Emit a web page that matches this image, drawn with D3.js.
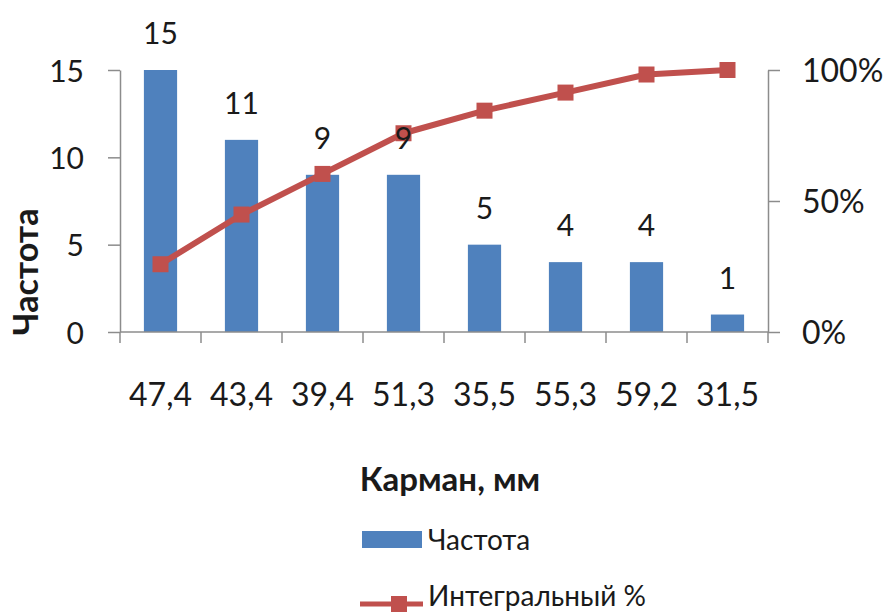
<!DOCTYPE html>
<html>
<head>
<meta charset="utf-8">
<script src="https://cdn.jsdelivr.net/npm/d3@7"></script>
<style>
  html, body { margin: 0; padding: 0; background: #ffffff; }
  svg text { font-family: Lato, "Open Sans", sans-serif; fill: #1a1a1a; }
</style>
</head>
<body>
<svg id="chart" width="886" height="614"></svg>
<script>
// Pocket size classes (mm), sorted by frequency
const categories = ["47,4", "43,4", "39,4", "51,3", "35,5", "55,3", "59,2", "31,5"];
// Frequency per class
const frequency = [15, 11, 9, 9, 5, 4, 4, 1];
// Cumulative share (Pareto line)
const cumulative = [0.2586, 0.4483, 0.6034, 0.7586, 0.8448, 0.9138, 0.9828, 1.0];
// Axis ticks
const leftTicks = [0, 5, 10, 15];
const rightTicks = [0, 0.5, 1];

const barColor = "#4F81BD";
const lineColor = "#C0504D";
const axisColor = "#8c8c8c";

const svg = d3.select("#chart");
const plotL = 120, plotR = 768, plotT = 70, plotB = 332;

const x = d3.scaleBand().domain(categories).range([plotL, plotR])
  .paddingInner(0.59).paddingOuter(0.295);
const y = d3.scaleLinear().domain([0, 15]).range([plotB, plotT]);
const y2 = d3.scaleLinear().domain([0, 1]).range([plotB, plotT]);
const cx = c => x(c) + x.bandwidth() / 2;

// Bars
svg.append("g").selectAll("rect").data(frequency).join("rect")
  .attr("x", (d, i) => x(categories[i]))
  .attr("y", d => y(d))
  .attr("width", x.bandwidth())
  .attr("height", d => y(0) - y(d))
  .attr("fill", barColor);

// Left axis
const gL = svg.append("g").attr("transform", `translate(${plotL},0)`)
  .call(d3.axisLeft(y).tickValues(leftTicks).tickSize(12).tickSizeOuter(0).tickPadding(24));
// Right axis
const gR = svg.append("g").attr("transform", `translate(${plotR},0)`)
  .call(d3.axisRight(y2).tickValues(rightTicks).tickSize(12).tickSizeOuter(0)
    .tickPadding(22).tickFormat(d3.format(".0%")));
// Bottom axis: labels at band centres, tick marks on band boundaries
const gB = svg.append("g").attr("transform", `translate(0,${plotB})`)
  .call(d3.axisBottom(x).tickSize(0).tickSizeOuter(0).tickPadding(51));
gB.select(".domain").remove();
gB.append("line").attr("x1", plotL).attr("x2", plotR).attr("y1", 0).attr("y2", 0);
const boundaries = categories.map(c => cx(c) - x.step() / 2).concat([plotR]);
gB.selectAll("line.sep").data(boundaries).join("line").attr("class", "sep")
  .attr("x1", d => d).attr("x2", d => d).attr("y1", 0).attr("y2", 11);

[gL, gR, gB].forEach(g => {
  g.selectAll("path, line").attr("stroke", axisColor).attr("stroke-width", 1.5);
  g.selectAll("text").attr("fill", "#1a1a1a")
    .style("font-family", "Lato, 'Open Sans', sans-serif");
});
gL.selectAll("text").style("font-size", "30px").attr("dy", "0.37em");
gR.selectAll("text").style("font-size", "32px").attr("dy", "0.37em");
gB.selectAll("text").style("font-size", "32px").attr("dy", "0.72em");

// Cumulative line with square markers
const line = d3.line().x((d, i) => cx(categories[i])).y(d => y2(d));
svg.append("path").datum(cumulative)
  .attr("d", line).attr("fill", "none")
  .attr("stroke", lineColor).attr("stroke-width", 6).attr("stroke-linejoin", "round");
const ms = 16;
svg.append("g").selectAll("rect").data(cumulative).join("rect")
  .attr("x", (d, i) => cx(categories[i]) - ms / 2)
  .attr("y", d => y2(d) - ms / 2)
  .attr("width", ms).attr("height", ms)
  .attr("fill", lineColor);

// Value labels above bars
svg.append("g").selectAll("text").data(frequency).join("text")
  .attr("x", (d, i) => cx(categories[i]))
  .attr("y", d => y(d) - 26)
  .attr("text-anchor", "middle")
  .style("font-size", "30px")
  .text(d => d);

// Axis titles
svg.append("text")
  .attr("x", 450).attr("y", 491)
  .attr("text-anchor", "middle")
  .style("font-size", "33px").style("font-weight", "bold")
  .text("Карман, мм");
svg.append("text")
  .attr("transform", "translate(38,272) rotate(-90)")
  .attr("text-anchor", "middle")
  .style("font-size", "34px").style("font-weight", "bold")
  .text("Частота");

// Legend
const lg = svg.append("g");
lg.append("rect").attr("x", 362).attr("y", 531).attr("width", 60).attr("height", 17).attr("fill", barColor);
lg.append("text").attr("x", 428).attr("y", 550).style("font-size", "28px").text("Частота");
lg.append("line").attr("x1", 360).attr("x2", 423).attr("y1", 604).attr("y2", 604)
  .attr("stroke", lineColor).attr("stroke-width", 5);
lg.append("rect").attr("x", 391).attr("y", 596).attr("width", 16).attr("height", 16).attr("fill", lineColor);
lg.append("text").attr("x", 428).attr("y", 606).style("font-size", "28px").text("Интегральный %");
</script>
</body>
</html>
